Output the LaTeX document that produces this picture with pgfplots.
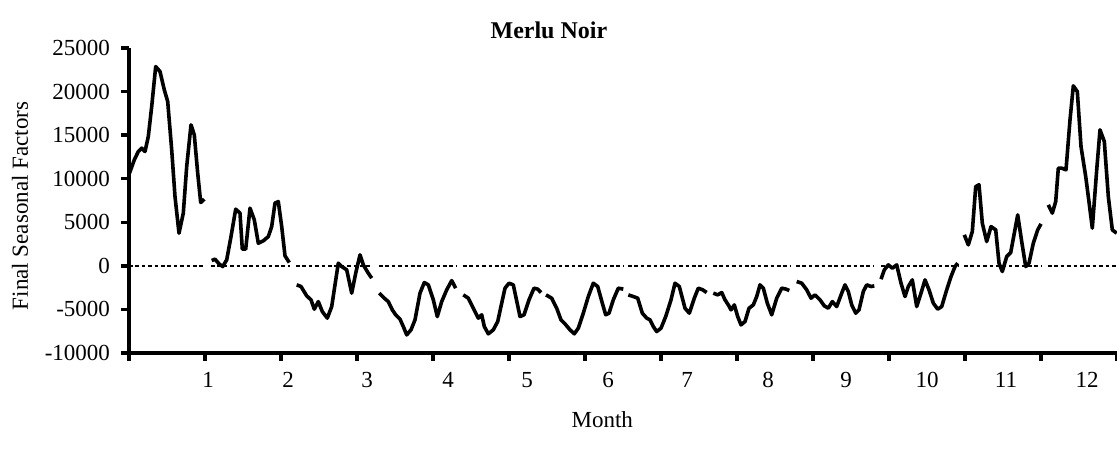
\documentclass[border=0pt]{standalone}
\usepackage{pgfplots}
\pgfplotsset{compat=1.18}
\usepackage{fontspec}
\setmainfont{Liberation Serif}
\begin{document}
\begin{tikzpicture}[ser/.style={black, line width=1.8pt, line join=round, mark=none}]
\useasboundingbox (-64.5pt,-53.5pt) rectangle (494pt,176.5pt);
\begin{axis}[
  scale only axis, width=494pt, height=152.5pt,
  at={(0,0)}, anchor=south west,
  xmin=129, xmax=1117, ymin=-10000, ymax=25000,
  axis x line*=bottom, axis y line*=left,
  axis line style={line width=1.7pt},
  every tick/.style={black, line width=1.7pt},
  tick align=outside,
  scaled y ticks=false,
  ytick={-10000,-5000,0,5000,10000,15000,20000,25000},
  yticklabels={-10000,-5000,0,5000,10000,15000,20000,25000},
  major tick length=4pt,
  xtick={129,205,281,357,433,509,585,661,737,813,889,965,1041,1117},
  xticklabels={},
  extra x ticks={208,288,367,448,527,608,687,768,846,927,1006,1087},
  extra x tick labels={1,2,3,4,5,6,7,8,9,10,11,12},
  extra x tick style={major tick length=0pt, tick label style={yshift=-6pt}},
  tick label style={font=\fontsize{11.5}{13}\selectfont},
  yticklabel style={xshift=-2pt},
  title={\textbf{Merlu Noir}},
  title style={at={(axis description cs:0.425,1.02)}, anchor=center, font=\fontsize{12}{14}\selectfont},
  xlabel={Month},
  xlabel style={at={(axis description cs:0.479,-0.2197)}, anchor=center, font=\fontsize{11.5}{13}\selectfont},
  ylabel={Final Seasonal Factors},
  ylabel style={at={(axis description cs:-0.1103,0.482)}, anchor=center, font=\fontsize{11.5}{13}\selectfont},
  clip=false,
]
% dashed zero reference per month
\foreach \a/\b in {129/205,211/290,296/372,379/456,463/541,546/624,628/707,713/790,796/874,881/958,964/1041,1048/1117}{
  \edef\tmp{\noexpand\addplot[black, line width=0.7pt, dash pattern=on 1.8pt off 1.4pt, forget plot] coordinates {(\a,0) (\b,0)};}
  \tmp
}
% month 1
\addplot[ser] coordinates {(129.5,10640) (134.3,12160) (138.3,13120) (141.7,13510) (145,13120) (148.3,14840) (151.7,18280) (155.7,22870) (160,22300) (164.3,20200) (167.7,18860) (171.7,13310) (175,7950) (179,3750) (183.3,6050) (186.7,11400) (191,16180) (194.3,15030) (197.7,10640) (200.7,7270) (204.3,7650)};
% month 2
\addplot[ser] coordinates {(211.7,610) (215,770) (219,230) (222.7,-80) (226.7,690) (231,3360) (235.7,6510) (240,6050) (242.3,1920) (245.7,1920) (250,6620) (254.3,5280) (258.3,2600) (263.3,2870) (268.3,3360) (271.7,4510) (275,7200) (278.3,7380) (281.7,4510) (285,1150) (289.3,380)};
% month 3
\addplot[ser] coordinates {(296.7,-2180) (301,-2370) (306.7,-3440) (311,-3900) (314.3,-4970) (318.3,-4100) (322.3,-5240) (327.3,-6000) (331.7,-4670) (338.3,310) (341.7,-80) (346.7,-460) (351.7,-3130) (355.7,-840) (360,1260) (363.3,115) (368.3,-840) (371.7,-1410)};
% month 4
\addplot[ser] coordinates {(379.3,-3130) (384.3,-3710) (388.3,-4100) (392.3,-5050) (395.7,-5620) (400,-6120) (403.3,-6960) (406.7,-7920) (411,-7340) (415,-6200) (420,-3130) (424.3,-1910) (428.3,-2180) (433.3,-3900) (437.3,-5820) (441.7,-4100) (446.7,-2750) (451.7,-1690) (455.7,-2560)};
% month 5
\addplot[ser] coordinates {(463.3,-3330) (468.3,-3710) (473.3,-4860) (478.3,-6000) (481.7,-5620) (484.3,-6960) (488.3,-7800) (493.3,-7340) (497.7,-6390) (501.7,-4280) (505,-2560) (509,-1990) (513.3,-2180) (520,-5820) (524,-5620) (529,-3900) (534,-2560) (537.7,-2670) (541,-3060)};
% month 6
\addplot[ser] coordinates {(546,-3330) (551.7,-3710) (556.7,-4860) (561,-6200) (565,-6660) (570,-7340) (574.3,-7800) (578.3,-7150) (583.3,-5430) (588.3,-3520) (593.3,-1990) (597.7,-2370) (602.3,-4280) (605.7,-5620) (609,-5430) (613.3,-3900) (618.3,-2560) (623.3,-2670)};
% month 7
\addplot[ser] coordinates {(628.3,-3330) (633.3,-3520) (637.7,-3710) (642.3,-5430) (646.7,-6000) (650,-6200) (653.3,-6960) (656.7,-7540) (661,-7150) (665.7,-5820) (671,-3900) (675,-1990) (679.3,-2370) (685,-4860) (689.3,-5430) (694.3,-3710) (698.3,-2560) (702.7,-2750) (706.7,-3060)};
% month 8
\addplot[ser] coordinates {(713.3,-3130) (717.7,-3330) (721.7,-3060) (725,-3900) (728.3,-4480) (731,-5050) (734.3,-4480) (737.7,-5820) (741,-6770) (745,-6390) (749,-4860) (753.3,-4480) (756.7,-3520) (760,-2180) (763.3,-2560) (767.3,-4280) (771.7,-5620) (776.7,-3710) (781.7,-2560) (786,-2670) (789.3,-2830)};
% month 9
\addplot[ser] coordinates {(796.7,-1800) (801.7,-1990) (806.7,-2750) (811,-3710) (815,-3330) (820,-3900) (824.3,-4590) (828.3,-4860) (832.3,-4100) (836.7,-4670) (841.7,-3130) (845,-2180) (848.3,-2950) (851.7,-4480) (855.7,-5430) (859,-5050) (863.3,-2950) (866.7,-2180) (871,-2370) (874.3,-2300)};
% month 10
\addplot[ser] coordinates {(881,-1530) (884.3,-460) (888.3,115) (892.3,-270) (896.7,115) (901,-1990) (905,-3520) (908.3,-2370) (912.3,-1610) (916.7,-4670) (921,-3130) (925,-1610) (929,-2750) (933.3,-4280) (937.7,-4970) (941.7,-4670) (946.7,-2750) (951,-1230) (955,-80) (957.7,310)};
% month 11
\addplot[ser] coordinates {(964.3,3560) (968.3,2410) (972.3,3940) (975.7,9100) (979,9300) (982.3,4900) (986.7,2790) (991,4510) (995.7,4130) (999,310) (1002.3,-650) (1006.7,1070) (1010.7,1530) (1014.3,3750) (1017.7,5850) (1021.7,2790) (1025.7,-80) (1029,310) (1033.3,2600) (1037.7,4130) (1041,4820)};
% month 12
\addplot[ser] coordinates {(1048.3,7000) (1052.3,6050) (1055.7,7380) (1058.3,11210) (1061.7,11210) (1066,11020) (1070,16760) (1073.3,20660) (1077.3,20000) (1081,13690) (1085.7,10250) (1088.3,7950) (1092.3,4330) (1096.7,11020) (1100,15610) (1104.3,14270) (1108.3,7950) (1112.3,4130) (1116.7,3750)};
\end{axis}
\end{tikzpicture}
\end{document}
